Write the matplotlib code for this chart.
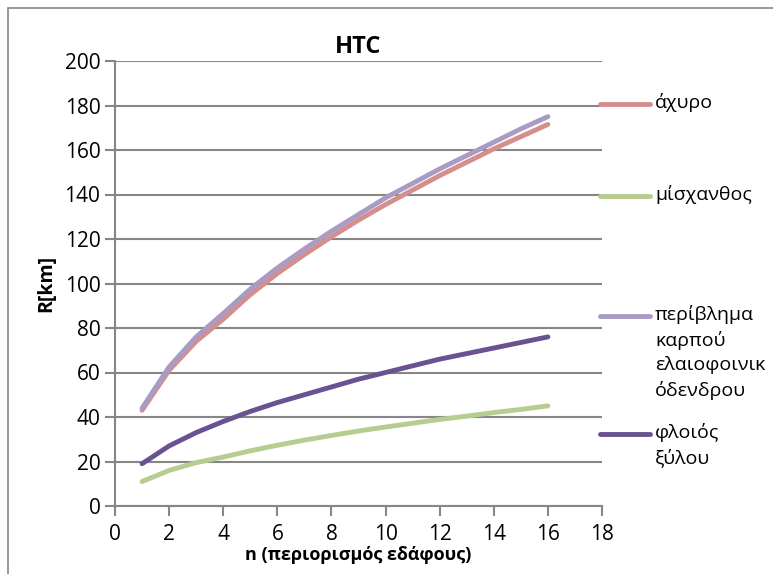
import matplotlib
matplotlib.use("Agg")
import matplotlib.pyplot as plt
from matplotlib.lines import Line2D
from matplotlib.patches import Rectangle

plt.rcParams['font.family'] = ['Open Sans', 'DejaVu Sans']

# n values and R[km]
n = [1, 2, 3, 4, 5, 6, 7, 8, 9, 10, 11, 12, 13, 14, 15, 16]
axyro = [43, 61, 74, 84, 95, 104.5, 113, 121, 128.5, 135.5, 142, 148.5, 154.5, 160.5, 166, 171.5]
misxanthos = [11, 16, 19.5, 22, 24.8, 27.3, 29.6, 31.7, 33.7, 35.5, 37.2, 38.9, 40.4, 42, 43.4, 45]
periblima = [44, 62.5, 76, 86.5, 97.5, 107, 115.5, 123.5, 131, 138.5, 145, 151.5, 157.5, 163.5, 169.5, 175]
floios = [19, 27, 33, 38, 42.5, 46.5, 50, 53.5, 57, 60, 63, 66, 68.5, 71, 73.5, 76]

labels = ["άχυρο", "μίσχανθος", "περίβλημα\nκαρπού\nελαιοφοινικ\nόδενδρου", "φλοιός\nξύλου"]
colors = ["#D48E8C", "#B5CD8F", "#A99BC4", "#6A5190"]
series = [axyro, misxanthos, periblima, floios]

fig = plt.figure(figsize=(7.73, 5.74), dpi=100)
ax = fig.add_axes([115/773, 68/574, 487/773, 445/574])

for ys, c in zip(series, colors):
    ax.plot(n, ys, color=c, lw=3.5, solid_capstyle='round', solid_joinstyle='round')

ax.set_xlim(0, 18)
ax.set_ylim(0, 200)
ax.set_xticks(range(0, 19, 2))
ax.set_yticks(range(0, 201, 20))
ax.yaxis.grid(True, color="#868686", lw=1.5)
ax.set_axisbelow(True)
for s in ["top", "right"]:
    ax.spines[s].set_visible(False)
for s in ["left", "bottom"]:
    ax.spines[s].set_color("#868686")
    ax.spines[s].set_linewidth(1.5)
ax.tick_params(colors="#868686", labelcolor="black", length=7, width=1.5, labelsize=15)
ax.tick_params(axis='x', pad=6)

ax.set_title("HTC", fontsize=17, fontweight='bold', pad=6)
ax.set_xlabel("n (περιορισμός εδάφους)", fontsize=13, fontweight='bold', labelpad=1)
ax.set_ylabel("R[km]", fontsize=14, fontweight='bold', labelpad=6)

# legend on the right, Excel style
leg_y = [104, 196, 316, 434]
for lab, c, y in zip(labels, colors, leg_y):
    yf = 1 - y / 574
    fig.add_artist(Line2D([600/773, 650/773], [yf, yf], color=c, lw=3.5,
                          solid_capstyle='round', transform=fig.transFigure))
    fig.text(655/773, yf + 11/574, lab, fontsize=14, va='top', ha='left', linespacing=1.45)

fig.add_artist(Rectangle((8/773, -0.1), 1.2, 1 - 8/574 + 0.1, transform=fig.transFigure,
                         fill=False, ec="#868686", lw=1.2))

fig.savefig("out.png", dpi=100)
